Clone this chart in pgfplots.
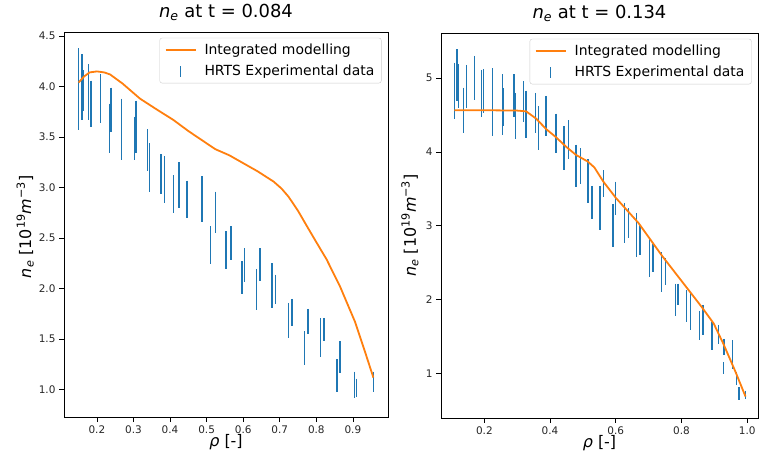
\documentclass[border=0pt]{standalone}
\usepackage{fontspec}
\setmainfont{DejaVu Sans}
\usepackage{pgfplots}
\pgfplotsset{compat=1.18}
\definecolor{tabblue}{RGB}{31,119,180}
\definecolor{taborange}{RGB}{255,127,14}
\newcommand{\nelab}{\textit{n}\textsubscript{\textit{e}}}
\pgfplotsset{
  myaxis/.style={
    scale only axis,
    axis line style={black, line width=0.8bp},
    tick style={black, line width=0.8bp},
    tick align=outside,
    major tick length=5bp,
    xtick pos=bottom, ytick pos=left,
    tick label style={font=\fontsize{10.5}{12}\selectfont, text=black!85},
    xticklabel style={inner ysep=1bp, yshift=-2.5bp},
    /pgf/number format/assume math mode=true,
    label style={font=\fontsize{16}{19}\selectfont},
    title style={font=\fontsize{18}{21}\selectfont, at={(0.5,1.021)}, anchor=base},
    xlabel style={at={(axis description cs:0.5,-0.0779)}, anchor=base, inner sep=0bp},
    unbounded coords=jump,
    reverse legend,
    legend cell align=left,
    legend style={at={(0.98,0.985)}, anchor=north east, draw=black!20, rounded corners=2.5bp,
      fill=white, font=\fontsize{14}{16}\selectfont, inner xsep=5bp, inner ysep=4bp,
      row sep=5bp, /tikz/every odd column/.style={column sep=6bp}},
  },
  barstyle/.style={tabblue, line width=1.4bp,
    legend image code/.code={\draw[##1] (15bp,-5.5bp) -- (15bp,5.5bp);}},
  linestyle/.style={taborange, line width=1.8bp,
    legend image code/.code={\draw[##1] (0bp,0bp) -- (30bp,0bp);}},
}
\begin{document}
\begin{tikzpicture}
\useasboundingbox (0,0) rectangle (759bp,459bp);
% ---------------- left ----------------
\begin{axis}[myaxis,
  at={(64bp,42bp)}, anchor=south west,
  width=324bp, height=385bp,
  xmin=0.110, xmax=0.996, ymin=0.73, ymax=4.54,
  xtick={0.2,0.3,0.4,0.5,0.6,0.7,0.8,0.9},
  ytick={1.0,1.5,2.0,2.5,3.0,3.5,4.0,4.5},
  xticklabel style={/pgf/number format/.cd, fixed, fixed zerofill, precision=1},
  yticklabel style={/pgf/number format/.cd, fixed, fixed zerofill, precision=1},
  title={\nelab{} at t = 0.084},
  xlabel={\textit{ρ} [-]},
  ylabel={\nelab{} [10\textsuperscript{19}\textit{m}\textsuperscript{−3}]},
  ylabel style={at={(axis description cs:-0.120,0.494)}, anchor=center},
]
\addplot[barstyle] coordinates {
(0.150,4.38) (0.150,3.57) (0.150,nan)
(0.159,4.32) (0.159,3.67) (0.159,nan)
(0.162,4.16) (0.162,3.76) (0.162,nan)
(0.177,4.22) (0.177,3.67) (0.177,nan)
(0.184,4.06) (0.184,3.60) (0.184,nan)
(0.209,4.12) (0.209,3.64) (0.209,nan)
(0.234,3.83) (0.234,3.34) (0.234,nan)
(0.238,3.99) (0.238,3.55) (0.238,nan)
(0.268,3.88) (0.268,3.27) (0.268,nan)
(0.303,3.70) (0.303,3.27) (0.303,nan)
(0.307,3.86) (0.307,3.34) (0.307,nan)
(0.338,3.58) (0.338,3.16) (0.338,nan)
(0.343,3.44) (0.343,2.96) (0.343,nan)
(0.375,3.33) (0.375,2.94) (0.375,nan)
(0.385,3.31) (0.385,2.85) (0.385,nan)
(0.409,3.12) (0.409,2.75) (0.409,nan)
(0.424,3.25) (0.424,2.80) (0.424,nan)
(0.446,3.07) (0.446,2.70) (0.446,nan)
(0.487,3.11) (0.487,2.66) (0.487,nan)
(0.511,2.62) (0.511,2.24) (0.511,nan)
(0.525,2.96) (0.525,2.55) (0.525,nan)
(0.553,2.57) (0.553,2.19) (0.553,nan)
(0.567,2.62) (0.567,2.28) (0.567,nan)
(0.597,2.27) (0.597,1.95) (0.597,nan)
(0.604,2.40) (0.604,2.07) (0.604,nan)
(0.636,2.19) (0.636,1.79) (0.636,nan)
(0.646,2.40) (0.646,2.08) (0.646,nan)
(0.679,2.25) (0.679,1.81) (0.679,nan)
(0.688,2.14) (0.688,1.85) (0.688,nan)
(0.724,1.86) (0.724,1.51) (0.724,nan)
(0.733,1.90) (0.733,1.63) (0.733,nan)
(0.767,1.58) (0.767,1.24) (0.767,nan)
(0.777,1.80) (0.777,1.55) (0.777,nan)
(0.812,1.71) (0.812,1.32) (0.812,nan)
(0.821,1.71) (0.821,1.48) (0.821,nan)
(0.856,1.30) (0.856,0.98) (0.856,nan)
(0.865,1.48) (0.865,1.17) (0.865,nan)
(0.904,1.18) (0.904,0.92) (0.904,nan)
(0.910,1.11) (0.910,0.93) (0.910,nan)
(0.956,1.18) (0.956,0.98)
};
\addlegendentry{HRTS Experimental data}
\addplot[linestyle] coordinates {
(0.150,4.04) (0.165,4.10) (0.180,4.14) (0.200,4.15) (0.220,4.14) (0.236,4.12)
(0.270,4.03) (0.318,3.88) (0.365,3.77) (0.409,3.67) (0.450,3.56) (0.491,3.46)
(0.524,3.38) (0.562,3.32) (0.601,3.24) (0.640,3.16) (0.683,3.06) (0.705,2.99)
(0.724,2.91) (0.750,2.77) (0.774,2.62) (0.800,2.46) (0.828,2.29) (0.865,2.02)
(0.906,1.67) (0.930,1.41) (0.956,1.12)
};
\addlegendentry{Integrated modelling}
\end{axis}
% ---------------- right ----------------
\begin{axis}[myaxis,
  at={(441bp,41bp)}, anchor=south west,
  width=317bp, height=385bp,
  xmin=0.068, xmax=1.033, ymin=0.40, ymax=5.61,
  xtick={0.2,0.4,0.6,0.8,1.0},
  ytick={1,2,3,4,5},
  xticklabel style={/pgf/number format/.cd, fixed, fixed zerofill, precision=1},
  yticklabel style={/pgf/number format/.cd, fixed, precision=0},
  title={\nelab{} at t = 0.134},
  xlabel={\textit{ρ} [-]},
  ylabel={\nelab{} [10\textsuperscript{19}\textit{m}\textsuperscript{−3}]},
  ylabel style={at={(axis description cs:-0.098,0.5)}, anchor=center},
]
\addplot[barstyle] coordinates {
(0.109,5.21) (0.109,4.45) (0.109,nan)
(0.117,5.39) (0.117,4.69) (0.117,nan)
(0.122,5.19) (0.122,4.60) (0.122,nan)
(0.137,4.87) (0.137,4.25) (0.137,nan)
(0.145,5.18) (0.145,4.59) (0.145,nan)
(0.170,5.30) (0.170,4.70) (0.170,nan)
(0.192,5.11) (0.192,4.47) (0.192,nan)
(0.198,5.12) (0.198,4.53) (0.198,nan)
(0.224,5.13) (0.224,4.22) (0.224,nan)
(0.256,5.05) (0.256,4.23) (0.256,nan)
(0.259,4.86) (0.259,4.35) (0.259,nan)
(0.290,5.05) (0.290,4.48) (0.290,nan)
(0.294,4.80) (0.294,4.18) (0.294,nan)
(0.320,4.96) (0.320,4.40) (0.320,nan)
(0.327,4.83) (0.327,4.19) (0.327,nan)
(0.355,4.80) (0.355,4.25) (0.355,nan)
(0.365,4.62) (0.365,4.02) (0.365,nan)
(0.388,4.76) (0.388,4.21) (0.388,nan)
(0.418,4.52) (0.418,3.98) (0.418,nan)
(0.442,4.35) (0.442,3.76) (0.442,nan)
(0.456,4.43) (0.456,3.90) (0.456,nan)
(0.479,4.10) (0.479,3.53) (0.479,nan)
(0.492,4.05) (0.492,3.57) (0.492,nan)
(0.515,3.90) (0.515,3.31) (0.515,nan)
(0.528,3.54) (0.528,3.09) (0.528,nan)
(0.552,3.54) (0.552,2.95) (0.552,nan)
(0.562,3.75) (0.562,3.39) (0.562,nan)
(0.591,3.29) (0.591,2.72) (0.591,nan)
(0.600,3.60) (0.600,3.15) (0.600,nan)
(0.626,3.31) (0.626,2.77) (0.626,nan)
(0.639,3.24) (0.639,2.83) (0.639,nan)
(0.664,3.17) (0.664,2.58) (0.664,nan)
(0.674,3.01) (0.674,2.61) (0.674,nan)
(0.703,2.82) (0.703,2.31) (0.703,nan)
(0.713,2.76) (0.713,2.37) (0.713,nan)
(0.740,2.64) (0.740,2.10) (0.740,nan)
(0.751,2.56) (0.751,2.20) (0.751,nan)
(0.781,2.22) (0.781,1.78) (0.781,nan)
(0.789,2.22) (0.789,1.93) (0.789,nan)
(0.816,2.13) (0.816,1.70) (0.816,nan)
(0.827,2.11) (0.827,1.59) (0.827,nan)
(0.855,1.85) (0.855,1.46) (0.855,nan)
(0.865,1.93) (0.865,1.52) (0.865,nan)
(0.893,1.70) (0.893,1.32) (0.893,nan)
(0.913,1.66) (0.913,1.40) (0.913,nan)
(0.930,1.47) (0.930,1.25) (0.930,nan)
(0.928,1.16) (0.928,0.99) (0.928,nan)
(0.955,1.45) (0.955,1.06) (0.955,nan)
(0.968,1.02) (0.968,0.84) (0.968,nan)
(0.975,0.82) (0.975,0.65) (0.975,nan)
(0.995,0.77) (0.995,0.66)
};
\addlegendentry{HRTS Experimental data}
\addplot[linestyle] coordinates {
(0.109,4.565) (0.200,4.565) (0.300,4.56) (0.327,4.55) (0.358,4.45) (0.388,4.31)
(0.418,4.20) (0.449,4.07) (0.479,3.96) (0.515,3.87) (0.535,3.79) (0.562,3.60)
(0.600,3.38) (0.669,3.04) (0.740,2.60) (0.822,2.13) (0.862,1.90) (0.898,1.68)
(0.928,1.40) (0.964,1.03) (0.995,0.69)
};
\addlegendentry{Integrated modelling}
\end{axis}
\end{tikzpicture}
\end{document}
